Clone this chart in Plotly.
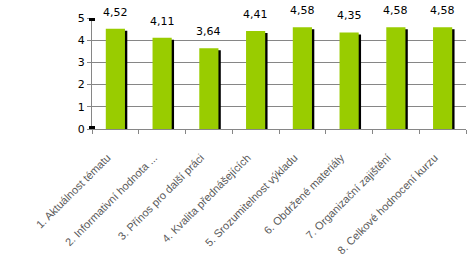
import plotly.graph_objects as go

categories = [
    "1. Aktuálnost tématu",
    "2. Informativní hodnota ...",
    "3. Přínos pro další práci",
    "4. Kvalita přednášejících",
    "5. Srozumitelnost výkladu",
    "6. Obdržené materiály",
    "7. Organizační zajištění",
    "8. Celkové hodnocení kurzu",
]
values = [4.52, 4.11, 3.64, 4.41, 4.58, 4.35, 4.58, 4.58]
y_ticks = [0, 1, 2, 3, 4, 5]

labels = [f"{v:.2f}".replace(".", ",") for v in values]

bar_w = 0.41
shadow_dx = 0.05
shadow_dy = 0.09

fig = go.Figure()
# shadow
fig.add_trace(go.Bar(
    x=categories, y=[v - shadow_dy for v in values],
    width=bar_w, offset=-bar_w / 2 + shadow_dx,
    marker=dict(color="black", line=dict(width=0)),
    hoverinfo="skip", showlegend=False,
))
fig.add_trace(go.Bar(
    x=categories, y=values,
    width=bar_w, offset=-bar_w / 2,
    marker=dict(color="#99CC00", line=dict(width=0)),
    showlegend=False,
))
for c, v, t in zip(categories, values, labels):
    fig.add_annotation(x=c, y=v, text=t, showarrow=False, yanchor="bottom",
                       yshift=8, font=dict(family="DejaVu Sans", size=11, color="black"))

fig.update_layout(
    width=470, height=274,
    margin=dict(l=92, r=4, t=18, b=145),
    barmode="overlay",
    plot_bgcolor="white", paper_bgcolor="white",
    font=dict(family="Liberation Sans", size=11, color="#595959"),
)
fig.update_xaxes(
    type="category", tickson="boundaries", ticks="outside", ticklen=4,
    tickcolor="#868686", showline=True, linecolor="#868686", linewidth=1,
    tickangle=-45, tickfont=dict(family="Liberation Sans", size=11, color="#595959"),
    ticklabelstandoff=17, ticklabelshift=-8,
    showgrid=False, range=[-0.5, 7.5],
)
fig.update_yaxes(
    range=[0, 5], tickvals=y_ticks, showgrid=True, gridcolor="#868686",
    gridwidth=1, showline=True, linecolor="#868686", linewidth=1,
    ticks="outside", ticklen=4, tickcolor="#868686",
    tickfont=dict(family="DejaVu Sans", size=11, color="black"),
    zeroline=False,
)
for yv in (0, 5):
    fig.add_shape(type="rect", xref="paper", yref="y", xsizemode="pixel",
                  ysizemode="pixel", xanchor=0, yanchor=yv,
                  x0=-3, x1=3, y0=-3, y1=3, fillcolor="black",
                  line=dict(width=0))

fig.write_html("out.html")
